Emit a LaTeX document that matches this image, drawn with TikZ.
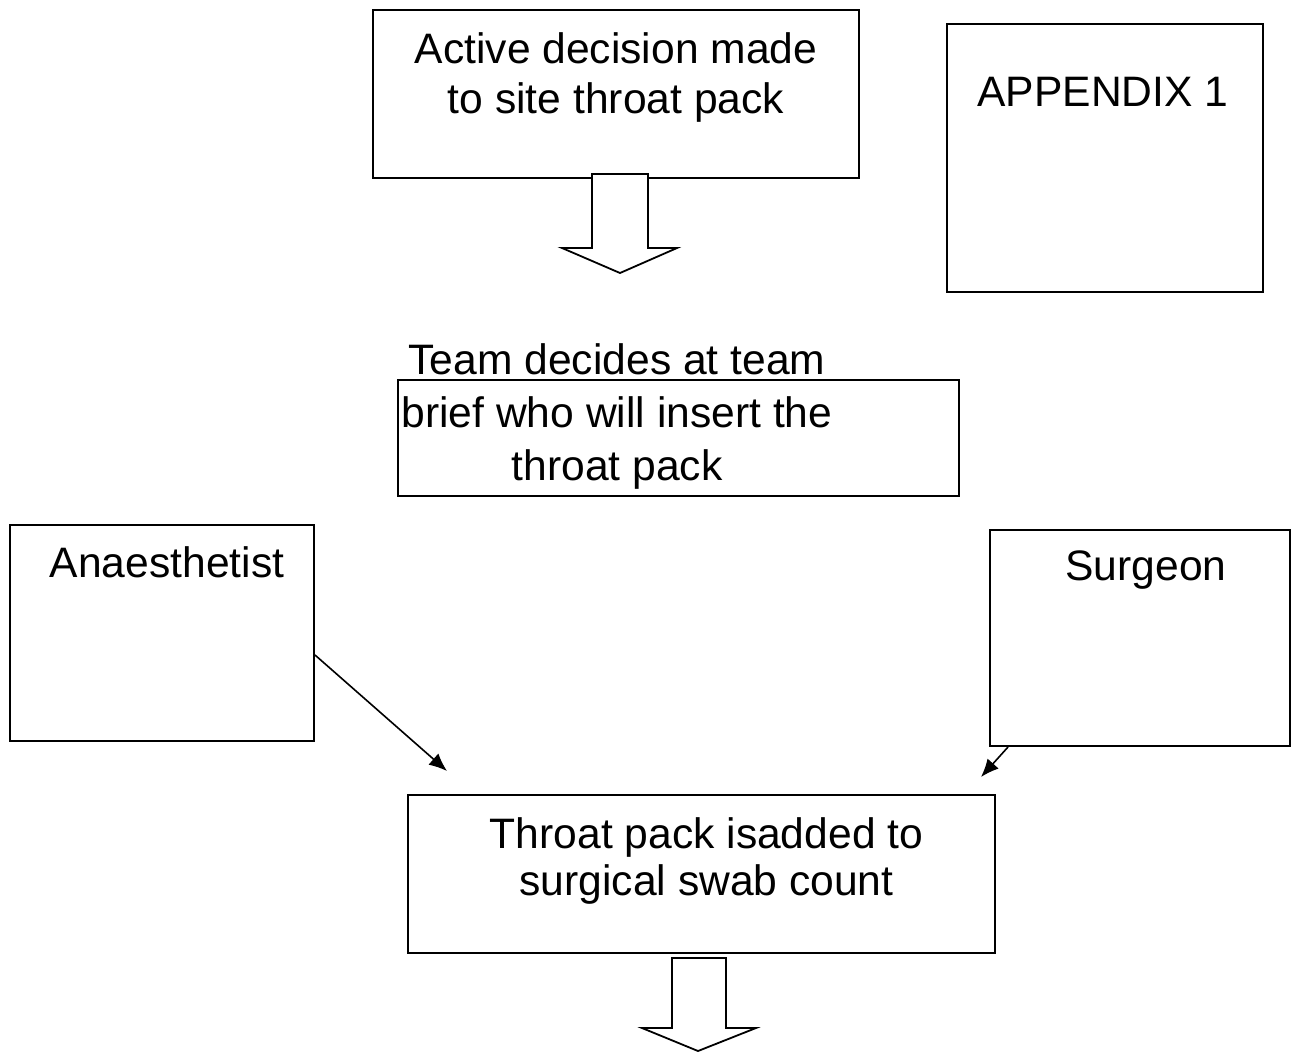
\documentclass[tikz,border=0pt]{standalone}
\usepackage{fontspec}
\setmainfont{Liberation Sans}
\usepackage{tikz}
\usetikzlibrary{arrows.meta,positioning}
\tikzstyle{stepbox}=[draw, line width=1pt, inner sep=0pt]
\tikzstyle{steptext}=[inner sep=0pt, align=center, font=\fontsize{21.3}{25}\selectfont]
\tikzstyle{blockarrow}=[draw, line width=0.9pt, fill=white, line join=miter]
\tikzstyle{pointer}=[line width=0.8pt, -{Latex[length=9pt, width=7.5pt]}]

\begin{document}
\begin{tikzpicture}[x=0.5pt, y=-0.5pt]
    \useasboundingbox (0,0) rectangle (1300,1051);
    %
    \node (decision) [stepbox, minimum width=243pt, minimum height=84pt] at (616,94) {};
    \node (decisiontext) [steptext, below=11.5pt of decision.north] {Active decision made\\to site throat pack};
    \node (appendix) [stepbox, minimum width=158pt, minimum height=134pt] at (1105,158) {};
    \node (appendixtext) [steptext, below=27pt of appendix.north, xshift=-1pt] {APPENDIX 1};
    %
    \draw [blockarrow] ([shift={(-24,-5)}]decision.south) -- ++(56,0) -- ++(0,74) -- ++(29,0)
        -- ++(-57,25) -- ++(-58,-25) -- ++(30,0) -- cycle;
    %
    \node (brief) [stepbox, minimum width=280.5pt, minimum height=58pt] at (678.5,438) {};
    \node (brieftext) [steptext, anchor=north, font=\fontsize{21.3}{26.5}\selectfont] at (617,343)
        {Team decides at team\\brief who will insert the\\throat pack};
    %
    \node (anaes) [stepbox, minimum width=152pt, minimum height=108pt] at (162,633) {};
    \node (anaestext) [steptext, below=11pt of anaes.north, xshift=2.5pt] {Anaesthetist};
    \node (surgeon) [stepbox, minimum width=150pt, minimum height=108pt] at (1140,638) {};
    \node (surgeontext) [steptext, below=10.5pt of surgeon.north, xshift=3pt] {Surgeon};
    %
    \node (count) [stepbox, minimum width=293.5pt, minimum height=79pt] at (701.5,874) {};
    \node (counttext) [steptext, below=11.5pt of count.north, xshift=2.5pt, font=\fontsize{21.3}{23.5}\selectfont]
        {Throat pack isadded to\\surgical swab count};
    %
    \coordinate (anaestip) at (447,771);
    \coordinate (surgeontip) at (981,777);
    \draw [pointer] ([yshift=-11pt]anaes.east) -- (anaestip);
    \draw [pointer] ([xshift=-66pt]surgeon.south) -- (surgeontip);
    %
    \draw [blockarrow] ([shift={(-29.5,4)}]count.south) -- ++(54,0) -- ++(0,70) -- ++(30,0)
        -- ++(-58,23) -- ++(-56,-23) -- ++(30,0) -- cycle;
\end{tikzpicture}
\end{document}
